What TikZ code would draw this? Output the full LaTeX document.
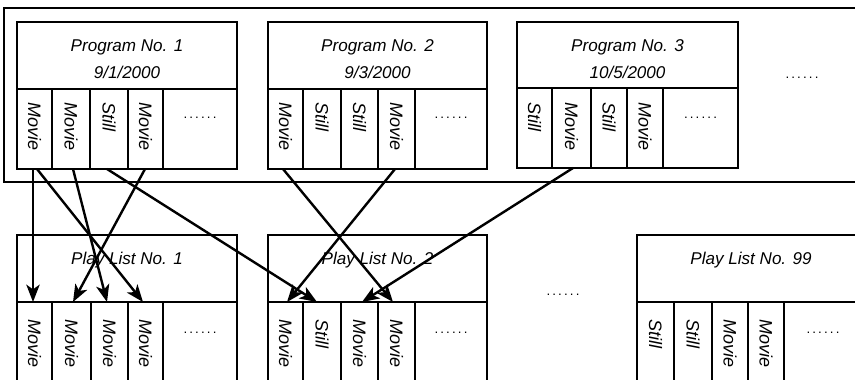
\documentclass[tikz,border=0pt]{standalone}
\usepackage{fontspec}
\setmainfont{Liberation Sans}
\usetikzlibrary{arrows.meta,calc}
\tikzset{
  cellbox/.style={draw, line width=0.9pt, inner sep=0pt, outer sep=0pt},
  vlab/.style={rotate=-90, anchor=west, inner sep=0pt, font=\fontsize{13.5}{15}\selectfont\itshape},
  ttl/.style={inner sep=0pt, font=\fontsize{12.8}{15}\selectfont\itshape},
  dots/.style={inner sep=0pt, font=\fontsize{10}{12}\selectfont},
  link/.style={line width=1.8pt, -{Stealth[length=13pt,width=10pt,inset=3.5pt]}, shorten >=0pt},
}
\newcommand\cellat[5]{%
  \node[cellbox, minimum width={(#3-#2)*0.75pt}, minimum height={(#5-#4)*0.75pt}] (#1) at ({(#2+#3)/2},{(#4+#5)/2}) {};}
\newcommand\dotrow{.\hspace{1.6pt}.\hspace{1.6pt}.\hspace{1.6pt}.\hspace{1.6pt}.\hspace{1.6pt}.}
\begin{document}
\begin{tikzpicture}[x=0.75pt,y=-0.75pt]
\useasboundingbox (0,0) rectangle (855,379);
\clip (0,0) rectangle (855,379);
\fill[white] (0,0) rectangle (855,379);
% outer frame
\node[draw, line width=1.3pt, minimum width={(880-4)*0.75pt}, minimum height={(182-8)*0.75pt}, inner sep=0pt] (frame) at ({(4+880)/2},{(8+182)/2}) {};
% ---------- Program 1 ----------
\cellat{p1h}{17}{237}{22}{89}
\node[ttl] (p1t) at (127,47) {Program No. 1};
\node[ttl] (p1d8) at (127,72) {9/1/2000};
\cellat{p1a}{17}{52}{89}{169}
\cellat{p1b}{52}{90}{89}{169}
\cellat{p1c}{90}{128}{89}{169}
\cellat{p1d}{128}{163}{89}{169}
\cellat{p1e}{163}{237}{89}{169}
\node[vlab] (l1) at (p1a |- 0,102) {Movie};
\node[vlab] (l2) at (p1b |- 0,102) {Movie};
\node[vlab] (l3) at (p1c |- 0,102) {Still};
\node[vlab] (l4) at (p1d |- 0,102) {Movie};
\node[dots] (l5) at (p1e |- 0,118) {\dotrow};
% ---------- Program 2 ----------
\cellat{p2h}{268}{487}{22}{89}
\node[ttl] (p2t) at (377.5,47) {Program No. 2};
\node[ttl] (p2d8) at (377.5,72) {9/3/2000};
\cellat{p2a}{268}{303}{89}{169}
\cellat{p2b}{303}{341}{89}{169}
\cellat{p2c}{341}{378}{89}{169}
\cellat{p2d}{378}{415}{89}{169}
\cellat{p2e}{415}{487}{89}{169}
\node[vlab] (m1) at (p2a |- 0,102) {Movie};
\node[vlab] (m2) at (p2b |- 0,102) {Still};
\node[vlab] (m3) at (p2c |- 0,102) {Still};
\node[vlab] (m4) at (p2d |- 0,102) {Movie};
\node[dots] (m5) at (p2e |- 0,118) {\dotrow};
% ---------- Program 3 ----------
\cellat{p3h}{517}{738}{22}{88}
\node[ttl] (p3t) at (627.5,47) {Program No. 3};
\node[ttl] (p3d8) at (627.5,72) {10/5/2000};
\cellat{p3a}{517}{552}{88}{168}
\cellat{p3b}{552}{591}{88}{168}
\cellat{p3c}{591}{627}{88}{168}
\cellat{p3d}{627}{663}{88}{168}
\cellat{p3e}{663}{738}{88}{168}
\node[vlab] (n1) at (p3a |- 0,102) {Still};
\node[vlab] (n2) at (p3b |- 0,102) {Movie};
\node[vlab] (n3) at (p3c |- 0,102) {Still};
\node[vlab] (n4) at (p3d |- 0,102) {Movie};
\node[dots] (n5) at (p3e |- 0,118) {\dotrow};
\node[dots] (pmore) at (802,78) {\dotrow};
% ---------- Play List 1 ----------
\cellat{q1h}{17}{237}{235}{302}
\node[ttl] (q1t) at (127,260) {Play List No. 1};
\cellat{q1a}{17}{52}{302}{400}
\cellat{q1b}{52}{91}{302}{400}
\cellat{q1c}{91}{128}{302}{400}
\cellat{q1d}{128}{163}{302}{400}
\cellat{q1e}{163}{237}{302}{400}
\node[vlab] (r1) at (q1a |- 0,319) {Movie};
\node[vlab] (r2) at (q1b |- 0,319) {Movie};
\node[vlab] (r3) at (q1c |- 0,319) {Movie};
\node[vlab] (r4) at (q1d |- 0,319) {Movie};
\node[dots] (r5) at (q1e |- 0,333) {\dotrow};
% ---------- Play List 2 ----------
\cellat{q2h}{268}{487}{235}{302}
\node[ttl] (q2t) at (377.5,260) {Play List No. 2};
\cellat{q2a}{268}{303}{302}{400}
\cellat{q2b}{303}{341}{302}{400}
\cellat{q2c}{341}{378}{302}{400}
\cellat{q2d}{378}{415}{302}{400}
\cellat{q2e}{415}{487}{302}{400}
\node[vlab] (s1) at (q2a |- 0,319) {Movie};
\node[vlab] (s2) at (q2b |- 0,319) {Still};
\node[vlab] (s3) at (q2c |- 0,319) {Movie};
\node[vlab] (s4) at (q2d |- 0,319) {Movie};
\node[dots] (s5) at (q2e |- 0,333) {\dotrow};
\node[dots] (qmore) at (563,295) {\dotrow};
% ---------- Play List 99 ----------
\cellat{q9h}{637}{865}{235}{302}
\node[ttl] (q9t) at (751,260) {Play List No. 99};
\cellat{q9a}{637}{674}{302}{400}
\cellat{q9b}{674}{712}{302}{400}
\cellat{q9c}{712}{748}{302}{400}
\cellat{q9d}{748}{784}{302}{400}
\cellat{q9e}{784}{865}{302}{400}
\node[vlab] (t1) at (q9a |- 0,319) {Still};
\node[vlab] (t2) at (q9b |- 0,319) {Still};
\node[vlab] (t3) at (q9c |- 0,319) {Movie};
\node[vlab] (t4) at (q9d |- 0,319) {Movie};
\node[dots] (t5) at (823,333) {\dotrow};
% ---------- links ----------
\draw[link] ($(p1a.south)+(-1.5,0)$) -- ($(q1a.north)+(-1.5,0)$);
\draw[link] ($(p1a.south)+(2.5,0)$) -- ($(q1d.north)+(-2.5,0)$);
\draw[link] ($(p1b.south)+(2,0)$) -- ($(q1c.north)+(-2.5,0)$);
\draw[link] ($(p1d.south)+(-0.5,0)$) -- ($(q1b.north)+(1.5,0)$);
\draw[link] ($(p1c.south)+(-2,0)$) -- ($(q2b.north)+(-5,0)$);
\draw[link] ($(p2a.south)+(-2.5,0)$) -- ($(q2d.north)+(-3.5,0)$);
\draw[link] ($(p2d.south)+(-1.5,0)$) -- ($(q2a.north)+(1.5,0)$);
\draw[link] ($(p3b.south)+(1.5,0)$) -- ($(q2c.north)+(2.5,0)$);
\end{tikzpicture}
\end{document}
